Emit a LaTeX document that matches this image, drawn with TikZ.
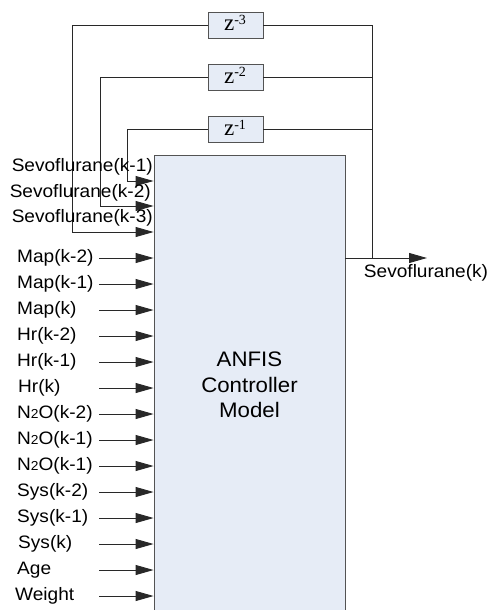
\documentclass[tikz,border=0pt]{standalone}
\usepackage{fontspec}
\setmainfont[FakeStretch=1.06]{Liberation Sans}
\newfontfamily\serifz{Liberation Serif}
\usetikzlibrary{arrows.meta}
\definecolor{boxfill}{RGB}{230,236,246}
\definecolor{linec}{RGB}{40,40,40}
\newcommand{\zpow}[1]{z\raisebox{6pt}{\fontsize{14}{14}\selectfont #1}}
\tikzset{
  blk/.style={draw=linec!80, fill=boxfill, line width=0.9pt, inner sep=0pt},
  zbox/.style={blk, minimum width=55pt, minimum height=26pt, font=\serifz\fontsize{23}{23}\selectfont},
  lbl/.style={inner sep=0pt, font=\fontsize{18}{20}\selectfont, text=black},
  wire/.style={draw=linec, line width=0.9pt},
  arr/.style={wire, -{Triangle[length=18pt,width=10pt]}}
}
\begin{document}
\begin{tikzpicture}[x=1pt,y=-1pt]
\useasboundingbox (0,0) rectangle (491,610);
% main block
\node[blk, minimum width=191pt, minimum height=460pt, align=center,
      font=\fontsize{21}{25.5}\selectfont] (anfis) at (249.5,385) {ANFIS\\Controller\\Model};
% delay blocks
\node[zbox] (z3) at (235.5,25) {};
\node[zbox] (z2) at (235.5,77) {};
\node[zbox] (z1) at (235.5,129) {};
\node[font=\serifz\fontsize{23}{23}\selectfont, inner sep=0pt, anchor=base] (t3) at (235,31) {\zpow{-3}};
\node[font=\serifz\fontsize{23}{23}\selectfont, inner sep=0pt, anchor=base] (t2) at (235,83) {\zpow{-2}};
\node[font=\serifz\fontsize{23}{23}\selectfont, inner sep=0pt, anchor=base] (t1) at (235,135) {\zpow{-1}};
% output
\coordinate (junc) at (372,258);
\coordinate (outend) at (427,258);
\coordinate (rtop) at (372,25);
\draw[arr] (anfis.east |- junc) -- (outend);
\node[lbl] (outlbl) at (426,273) {Sevoflurane(k)};
\draw[wire] (junc) -- (rtop) -- (z3.east);
\draw[wire] (z2.east) -- (junc |- z2.east);
\draw[wire] (z1.east) -- (junc |- z1.east);
% feedback paths
\coordinate (f3) at (72,25);
\coordinate (f2) at (100,77);
\coordinate (f1) at (127,129);
\draw[arr] (z3.west) -- (f3) -- (72,232) -- (anfis.west |- 0,232);
\draw[arr] (z2.west) -- (f2) -- (100,206) -- (anfis.west |- 0,206);
\draw[arr] (z1.west) -- (f1) -- (127,181) -- (anfis.west |- 0,181);
\node[lbl, anchor=east] (s1) at (153,167) {Sevoflurane(k-1)};
\node[lbl, anchor=east] (s2) at (151,193) {Sevoflurane(k-2)};
\node[lbl, anchor=east] (s3) at (153,218) {Sevoflurane(k-3)};
% inputs
\foreach \i/\t/\y/\xx in {1/Map(k-2)/258/17, 2/Map(k-1)/284/17, 3/Map(k)/310/17,
  4/Hr(k-2)/336/17, 5/Hr(k-1)/362/17, 6/Hr(k)/388/18,
  7/N{\fontsize{13}{13}\selectfont 2}O(k-2)/414/17, 8/N{\fontsize{13}{13}\selectfont 2}O(k-1)/440/17, 9/N{\fontsize{13}{13}\selectfont 2}O(k-1)/466/17,
  10/Sys(k-2)/492/17, 11/Sys(k-1)/518/17, 12/Sys(k)/544/18, 13/Age/570/17, 14/Weight/596/15} {
  \node[lbl, anchor=west] (in\i) at (\xx,\y) {\t};
  \coordinate (st\i) at (99,\y);
  \draw[arr] (st\i) -- (anfis.west |- st\i);
}
\end{tikzpicture}
\end{document}
